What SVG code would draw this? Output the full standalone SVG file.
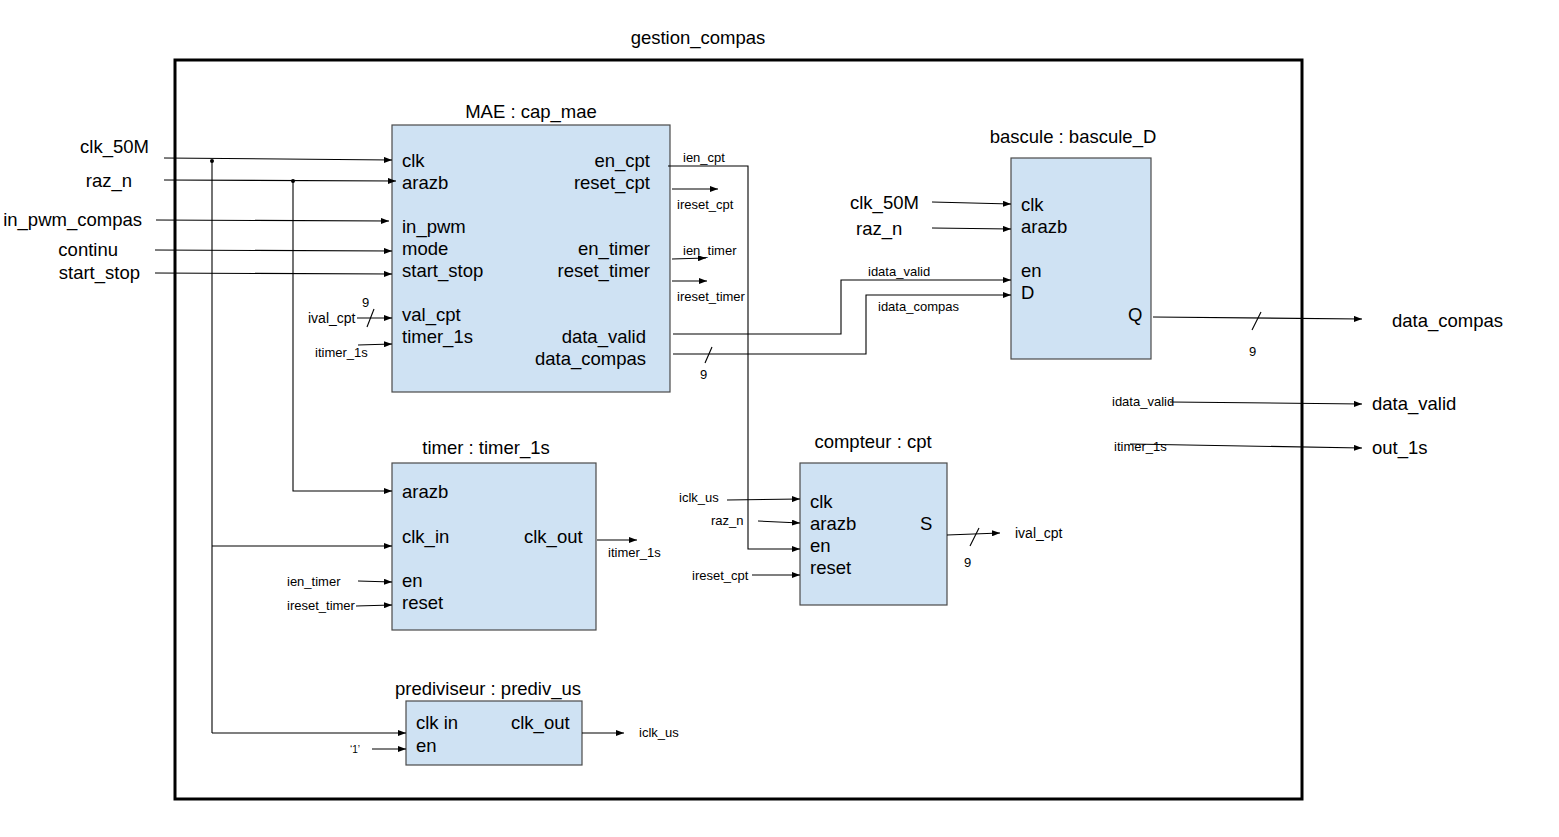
<svg xmlns="http://www.w3.org/2000/svg" width="1559" height="837" viewBox="0 0 1559 837">
<defs>
<marker id="ah" viewBox="0 0 8 6" refX="8" refY="3" markerWidth="8" markerHeight="6" markerUnits="userSpaceOnUse" orient="auto">
<path d="M0,0 L8,3 L0,6 z" fill="#000"/>
</marker>
<style>
text{font-family:"Liberation Sans",Arial,sans-serif;fill:#000}
.big{font-size:18.5px}
.sm{font-size:13px}
.blk{fill:#cfe2f3;stroke:#4a4a4a;stroke-width:1.2}
.w{fill:none;stroke:#000;stroke-width:1.1}
.a{marker-end:url(#ah)}
.r{text-anchor:end}
.m{text-anchor:middle}
</style>
</defs>
<rect width="1559" height="837" fill="#fff"/>

<g id="outer">
<rect x="175" y="60" width="1127" height="739" fill="none" stroke="#000" stroke-width="3"/>
<text class="big m" x="698" y="44">gestion_compas</text>
</g>

<g id="mae">
<rect class="blk" x="392" y="125" width="278" height="267"/>
<text class="big m" x="531" y="118">MAE : cap_mae</text>
<text class="big" x="402" y="167">clk</text>
<text class="big" x="402" y="189">arazb</text>
<text class="big" x="402" y="233">in_pwm</text>
<text class="big" x="402" y="255">mode</text>
<text class="big" x="402" y="277">start_stop</text>
<text class="big" x="402" y="321">val_cpt</text>
<text class="big" x="402" y="343">timer_1s</text>
<text class="big r" x="650" y="167">en_cpt</text>
<text class="big r" x="650" y="189">reset_cpt</text>
<text class="big r" x="650" y="255">en_timer</text>
<text class="big r" x="650" y="277">reset_timer</text>
<text class="big r" x="646" y="343">data_valid</text>
<text class="big r" x="646" y="365">data_compas</text>
</g>

<g id="timer">
<rect class="blk" x="392" y="463" width="204" height="167"/>
<text class="big m" x="486" y="454">timer : timer_1s</text>
<text class="big" x="402" y="498">arazb</text>
<text class="big" x="402" y="543">clk_in</text>
<text class="big" x="524" y="543">clk_out</text>
<text class="big" x="402" y="587">en</text>
<text class="big" x="402" y="609">reset</text>
</g>

<g id="compteur">
<rect class="blk" x="800" y="463" width="147" height="142"/>
<text class="big m" x="873" y="448">compteur : cpt</text>
<text class="big" x="810" y="508">clk</text>
<text class="big" x="810" y="530">arazb</text>
<text class="big" x="810" y="552">en</text>
<text class="big" x="810" y="574">reset</text>
<text class="big" x="920" y="530">S</text>
</g>

<g id="bascule">
<rect class="blk" x="1011" y="158" width="140" height="201"/>
<text class="big m" x="1073" y="143">bascule : bascule_D</text>
<text class="big" x="1021" y="211">clk</text>
<text class="big" x="1021" y="233">arazb</text>
<text class="big" x="1021" y="277">en</text>
<text class="big" x="1021" y="299">D</text>
<text class="big" x="1128" y="321">Q</text>
</g>

<g id="prediviseur">
<rect class="blk" x="406" y="701" width="176" height="64"/>
<text class="big m" x="488" y="695">prediviseur : prediv_us</text>
<text class="big" x="416" y="729">clk in</text>
<text class="big" x="511" y="729">clk_out</text>
<text class="big" x="416" y="752">en</text>
</g>

<g id="ports">
<text class="big r" x="149" y="153">clk_50M</text>
<text class="big r" x="132" y="187">raz_n</text>
<text class="big r" x="142" y="226">in_pwm_compas</text>
<text class="big r" x="118" y="256">continu</text>
<text class="big r" x="140" y="279">start_stop</text>
<text class="big" x="850" y="209">clk_50M</text>
<text class="big" x="856" y="235">raz_n</text>
<text class="big" x="1392" y="327">data_compas</text>
<text class="big" x="1372" y="410">data_valid</text>
<text class="big" x="1372" y="454">out_1s</text>
</g>

<g id="connectors">
<!-- left inputs -->
<path class="w a" d="M164,158 L392,160"/>
<path class="w a" d="M164,180 L396,181"/>
<path class="w a" d="M156,220 L389,221"/>
<path class="w a" d="M155,250 L392,251"/>
<path class="w a" d="M155,273 L392,274"/>
<circle cx="212" cy="161" r="2" fill="#000"/>
<circle cx="293" cy="181" r="2" fill="#000"/>
<path class="w" d="M212,161 L212,733"/>
<path class="w a" d="M212,546 L392,546"/>
<path class="w a" d="M212,733 L406,733"/>
<path class="w a" d="M293,181 L293,491 L392,491"/>
<!-- val_cpt / timer_1s inputs -->
<path class="w a" d="M357,318 L392,318"/>
<path class="w" d="M367,327 L374,309"/>
<text class="sm" x="362" y="307">9</text>
<text class="sm" x="308" y="323" style="font-size:14px">ival_cpt</text>
<path class="w a" d="M358,345 L392,344"/>
<text class="sm" x="315" y="357">itimer_1s</text>

<!-- MAE outputs -->
<path class="w a" d="M668,166 L748,166 L748,549 L800,549"/>
<text class="sm" x="683" y="162">ien_cpt</text>
<path class="w a" d="M672,189 L718,189"/>
<text class="sm" x="677" y="209">ireset_cpt</text>
<path class="w a" d="M672,259 L706,258"/>
<text class="sm" x="683" y="255">ien_timer</text>
<path class="w a" d="M672,281 L707,281"/>
<text class="sm" x="677" y="301">ireset_timer</text>
<path class="w a" d="M673,334 L841,334 L841,280 L1011,280"/>
<text class="sm" x="868" y="276">idata_valid</text>
<path class="w a" d="M673,354 L866,354 L866,295 L1011,295"/>
<text class="sm" x="878" y="311">idata_compas</text>
<path class="w" d="M705,363 L712,347"/>
<text class="sm" x="700" y="379">9</text>

<!-- bascule inputs -->
<path class="w a" d="M932,202 L1011,204"/>
<path class="w a" d="M932,228 L1011,229"/>
<!-- bascule output -->
<path class="w a" d="M1153,317 L1362,319"/>
<path class="w" d="M1252,330 L1261,312"/>
<text class="sm" x="1249" y="356">9</text>

<!-- right outputs -->
<text class="sm" x="1112" y="406">idata_valid</text>
<path class="w a" d="M1170,402 L1362,404"/>
<text class="sm" x="1114" y="451">itimer_1s</text>
<path class="w a" d="M1130,444 L1362,448"/>

<!-- timer -->
<text class="sm" x="287" y="586">ien_timer</text>
<path class="w a" d="M358,581 L392,582"/>
<text class="sm" x="287" y="610">ireset_timer</text>
<path class="w a" d="M356,606 L392,605"/>
<path class="w a" d="M597,540 L637,540"/>
<text class="sm" x="608" y="557">itimer_1s</text>

<!-- compteur -->
<text class="sm" x="679" y="502">iclk_us</text>
<path class="w a" d="M727,500 L800,499"/>
<text class="sm" x="711" y="525">raz_n</text>
<path class="w a" d="M758,521 L800,523"/>
<text class="sm" x="692" y="580">ireset_cpt</text>
<path class="w a" d="M752,575 L800,575"/>
<path class="w a" d="M947,535 L1000,533"/>
<path class="w" d="M970,546 L979,528"/>
<text class="sm" x="964" y="567">9</text>
<text class="sm" x="1015" y="538" style="font-size:14px">ival_cpt</text>

<!-- prediviseur -->
<text class="sm" x="350" y="753" style="font-size:10px">‘1’</text>
<path class="w a" d="M372,749 L406,749"/>
<path class="w a" d="M582,733 L624,733"/>
<text class="sm" x="639" y="737">iclk_us</text>
</g>
</svg>
